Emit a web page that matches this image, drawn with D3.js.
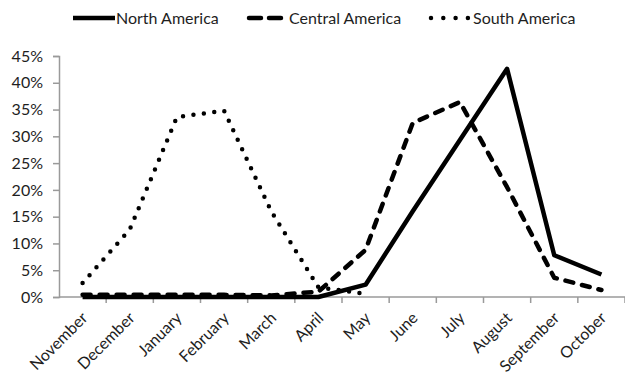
<!DOCTYPE html>
<html><head><meta charset="utf-8">
<script src="https://cdn.jsdelivr.net/npm/d3@7"></script>
<style>
html,body{margin:0;padding:0;background:#fff;}
svg{display:block;font-family:Lato,"Open Sans",sans-serif;}
</style></head>
<body>
<svg id="c" width="625" height="375"></svg>
<script>
const months = ["November","December","January","February","March","April","May","June","July","August","September","October"];
const northAmerica   = [0, 0, 0, 0, 0, 0, 2.3, 16, 29.3, 42.6, 7.8, 4.2];
const centralAmerica = [0.4, 0.4, 0.4, 0.4, 0.3, 1, 8.8, 32.5, 36.4, 20.5, 3.6, 1.3];
const southAmerica   = [2.6, 12.6, 33.6, 34.8, 16, 1.8, 0.6, null, null, null, null, null];
const yTicks = [0,5,10,15,20,25,30,35,40,45];
const seriesNames = ["North America","Central America","South America"];

const svg = d3.select("#c");
const x = d3.scaleBand().domain(months).range([59, 625]).padding(0);
const y = d3.scaleLinear().domain([0, 45]).range([297, 56]);
const axisColor = "#9a9a9a";
const textColor = "#1e1e1e";

// y axis
const yAxis = svg.append("g").attr("transform","translate(59,0)")
  .call(d3.axisLeft(y).tickValues(yTicks).tickFormat(d => d + "%").tickSize(6).tickPadding(10));
yAxis.select(".domain").attr("stroke", axisColor).attr("stroke-width", 1.5);
yAxis.selectAll(".tick line").attr("stroke", axisColor).attr("stroke-width", 1.5);
yAxis.selectAll(".tick text").attr("fill", textColor).attr("font-size", 16).attr("font-family","Lato");

// x axis with ticks at category boundaries
const xg = svg.append("g");
xg.append("line").attr("x1", 59).attr("x2", 625).attr("y1", y(0)).attr("y2", y(0))
  .attr("stroke", axisColor).attr("stroke-width", 1.5);
const bounds = months.map(m => x(m)).concat([x(months[months.length-1]) + x.bandwidth()]);
xg.selectAll("line.tk").data(bounds.slice(1)).join("line").attr("class","tk")
  .attr("x1", d => d).attr("x2", d => d).attr("y1", y(0)).attr("y2", y(0) + 6)
  .attr("stroke", axisColor).attr("stroke-width", 1.5);
xg.selectAll("text").data(months).join("text")
  .attr("transform", d => `translate(${x(d) + x.bandwidth()/2 + 6},${y(0) + 22}) rotate(-45)`)
  .attr("text-anchor","end").attr("font-size", 16).attr("fill", textColor)
  .text(d => d);

// series lines
const cx = (i) => x(months[i]) + x.bandwidth()/2;
const line = d3.line().defined(d => d != null).x((d,i) => cx(i)).y(d => y(d));
const styles = [
  {data: northAmerica, dash: null, cap: "butt"},
  {data: centralAmerica, dash: "8,9", cap: "round"},
  {data: southAmerica, dash: "0,10.5", cap: "round"}
];
// draw order: south, central, north
[2,1,0].forEach(k => {
  const s = styles[k];
  const p = svg.append("path").datum(s.data)
    .attr("d", line)
    .attr("fill","none").attr("stroke","#000").attr("stroke-width", 4.5)
    .attr("stroke-linejoin","round").attr("stroke-linecap", s.cap);
  if (s.dash) p.attr("stroke-dasharray", s.dash);
});

// legend
const legend = [
  {name: seriesNames[0], x1: 73, x2: 115, tx: 116, dash: null, cap: "butt"},
  {name: seriesNames[1], x1: 249, x2: 284, tx: 289, dash: "12,8", cap: "round"},
  {name: seriesNames[2], x1: 431, x2: 470, tx: 473, dash: "0,12.3", cap: "round"}
];
const lg = svg.append("g");
legend.forEach(l => {
  const ln = lg.append("line").attr("x1", l.x1).attr("x2", l.x2).attr("y1", 18).attr("y2", 18)
    .attr("stroke","#000").attr("stroke-width", 4.5).attr("stroke-linecap", l.cap);
  if (l.dash) ln.attr("stroke-dasharray", l.dash);
  lg.append("text").attr("x", l.tx).attr("y", 24).attr("font-size", 16).attr("fill", textColor).text(l.name);
});
</script>
</body></html>
